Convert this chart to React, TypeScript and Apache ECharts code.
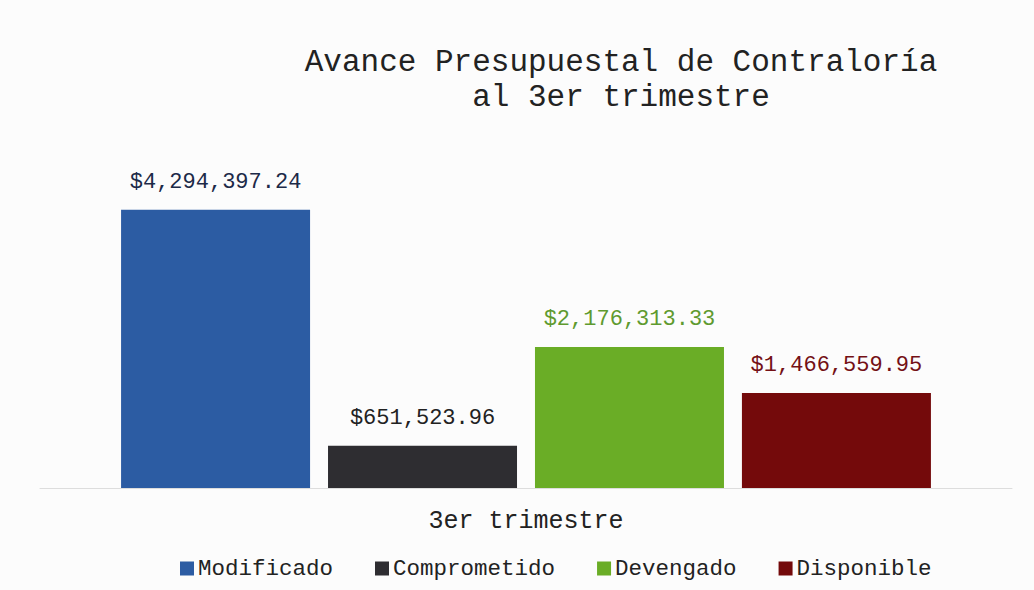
import React, { useEffect, useRef } from "react";
import * as echarts from "echarts";

const categories = ["3er trimestre"];
const seriesNames = ["Modificado", "Comprometido", "Devengado", "Disponible"];
const seriesValues = [4294397.24, 651523.96, 2176313.33, 1466559.95];
const barColors = ["#2c5ca3", "#2e2d31", "#6aad26", "#740a0b"];
const labelColors = ["#1c2a48", "#222222", "#5f9a2f", "#741015"];

const FONT = "'Liberation Mono', 'DejaVu Sans Mono', monospace";

const fmt = (v: number) =>
  "$" + v.toLocaleString("en-US", { minimumFractionDigits: 2, maximumFractionDigits: 2 });

export default function App() {
  const ref = useRef<HTMLDivElement>(null);
  useEffect(() => {
    if (!ref.current) return;
    const chart = echarts.init(ref.current, undefined, { renderer: "svg" });
    chart.setOption({
      animation: false,
      backgroundColor: "#fcfcfc",
      title: {
        text: "Avance Presupuestal de Contraloría\nal 3er trimestre",
        left: 616,
        top: 40,
        textAlign: "center",
        textStyle: {
          fontFamily: FONT,
          fontSize: 31,
          lineHeight: 35,
          fontWeight: "normal",
          color: "#222222",
        },
      },
      legend: {
        data: seriesNames,
        left: 175,
        top: 552,
        itemWidth: 14,
        itemHeight: 14,
        itemGap: 42,
        icon: "rect",
        textStyle: { fontFamily: FONT, fontSize: 22.5, color: "#222222", padding: [0, 0, 0, -1] },
      },
      grid: { left: 40, right: 22, top: 164, bottom: 102 },
      xAxis: {
        type: "category",
        data: categories,
        axisLine: { lineStyle: { color: "#dddddd", width: 1 } },
        axisTick: { show: false },
        axisLabel: { fontFamily: FONT, fontSize: 25, color: "#222222", margin: 21 },
      },
      yAxis: {
        type: "value",
        min: 0,
        max: 5000000,
        show: false,
        splitLine: { show: false },
      },
      series: seriesNames.map((name, i) => ({
        name,
        type: "bar",
        barWidth: 189,
        barGap: "9.5%",
        data: [seriesValues[i]],
        itemStyle: { color: barColors[i] },
        label: {
          show: true,
          position: "top",
          distance: 16,
          formatter: (p: any) => fmt(p.value),
          fontFamily: FONT,
          fontSize: 22,
          color: labelColors[i],
        },
      })),
    });
    return () => chart.dispose();
  }, []);
  return (
    <div
      ref={ref}
      style={{ position: "fixed", left: 0, top: 0, width: 1034, height: 590 }}
    />
  );
}
